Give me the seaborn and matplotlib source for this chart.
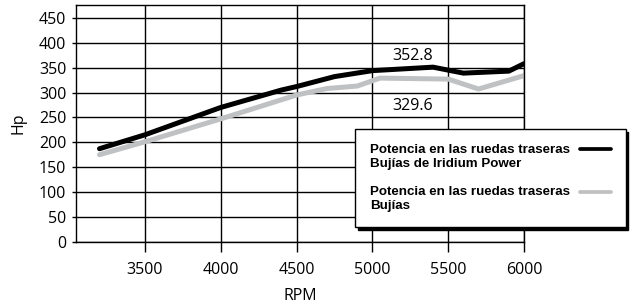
import matplotlib
matplotlib.use("Agg")
import matplotlib.pyplot as plt
import seaborn as sns
import pandas as pd
import numpy as np
from matplotlib.lines import Line2D
from matplotlib.legend_handler import HandlerLine2D

rpm_iridium = [3200, 3500, 4000, 4400, 4500, 4750, 5000, 5400, 5600, 5900, 6000]
hp_iridium = [187, 215, 270, 305, 312, 332, 344, 351, 339, 343, 358]
rpm_std = [3200, 3500, 4000, 4500, 4700, 4900, 5050, 5500, 5700, 6000]
hp_std = [175, 201, 247, 295, 308, 313, 329, 327, 307, 334]

label_iridium = "Potencia en las ruedas traseras\nBujías de Iridium Power"
label_std = "Potencia en las ruedas traseras\nBujías"
x_ticks = [3500, 4000, 4500, 5000, 5500, 6000]
y_ticks = [0, 50, 100, 150, 200, 250, 300, 350, 400, 450]
peak_iridium = "352.8"
peak_std = "329.6"

df = pd.concat([
    pd.DataFrame({"RPM": rpm_iridium, "Hp": hp_iridium, "serie": label_iridium}),
    pd.DataFrame({"RPM": rpm_std, "Hp": hp_std, "serie": label_std}),
])

sns.set_theme(style="white")
plt.rcParams["font.family"] = ["Open Sans", "DejaVu Sans"]
plt.rcParams["text.color"] = "black"
plt.rcParams["axes.labelcolor"] = "black"
plt.rcParams["xtick.color"] = "black"
plt.rcParams["ytick.color"] = "black"

fig = plt.figure(figsize=(6.32, 3.04), dpi=100)
ax = fig.add_axes([76 / 632, 1 - 241.7 / 304, (524 - 76) / 632, (241.7 - 5) / 304])

c_black = "#000000"
c_gray = "#bfc1c3"
sns.lineplot(data=df, x="RPM", y="Hp", hue="serie",
             palette={label_iridium: c_black, label_std: c_gray},
             linewidth=3.6, ax=ax, sort=False, estimator=None, legend=False)

ax.set_xlim(3045, 6000)
ax.set_ylim(0, 476)
ax.set_xticks(x_ticks)
ax.set_yticks(y_ticks)
ax.grid(True, color="black", linewidth=1.0)
ax.set_axisbelow(True)
for s in ax.spines.values():
    s.set_color("black")
    s.set_linewidth(1.0)
ax.tick_params(axis="x", direction="out", length=7.5, width=1.0,
               pad=7, labelsize=11.5, bottom=True, labelcolor="black")
ax.tick_params(axis="y", direction="out", length=3, width=1.0,
               pad=4, labelsize=11.5, left=True, labelcolor="black")
ax.set_xlabel("RPM", fontsize=11.5, labelpad=7)
ax.set_ylabel("Hp", fontsize=11.5, labelpad=9)

ax.text(5268, 373, peak_iridium, ha="center", va="center", fontsize=11.5)
ax.text(5268, 272, peak_std, ha="center", va="center", fontsize=11.5)


class UpHandler(HandlerLine2D):
    def __init__(self, offset, **kw):
        super().__init__(**kw)
        self.offset = offset

    def create_artists(self, legend, orig_handle, xdescent, ydescent, width,
                       height, fontsize, trans):
        arts = super().create_artists(legend, orig_handle, xdescent, ydescent,
                                      width, height, fontsize, trans)
        for a in arts:
            a.set_ydata(np.asarray(a.get_ydata()) + self.offset)
        return arts


handles = [Line2D([], [], color=c_black, linewidth=2.7),
           Line2D([], [], color=c_gray, linewidth=2.7)]
leg = fig.legend(handles, [label_iridium, label_std],
                 handler_map={Line2D: UpHandler(5.4)},
                 loc="upper left", bbox_to_anchor=(355 / 632, 1 - 129 / 304),
                 markerfirst=False, frameon=True, fancybox=False,
                 shadow={"color": "black", "alpha": 1.0},
                 prop={"family": ["Liberation Sans", "DejaVu Sans"],
                       "weight": "bold", "size": 9.6},
                 handlelength=2.3, handletextpad=0.75, labelspacing=1.2,
                 borderpad=1.12, borderaxespad=0)
leg.get_frame().set_edgecolor("black")
leg.get_frame().set_linewidth(1.0)
leg.get_frame().set_alpha(1)
for t in leg.get_texts():
    t.set_linespacing(1.25)
    t.set_color("black")

fig.savefig("out.png", dpi=100)
